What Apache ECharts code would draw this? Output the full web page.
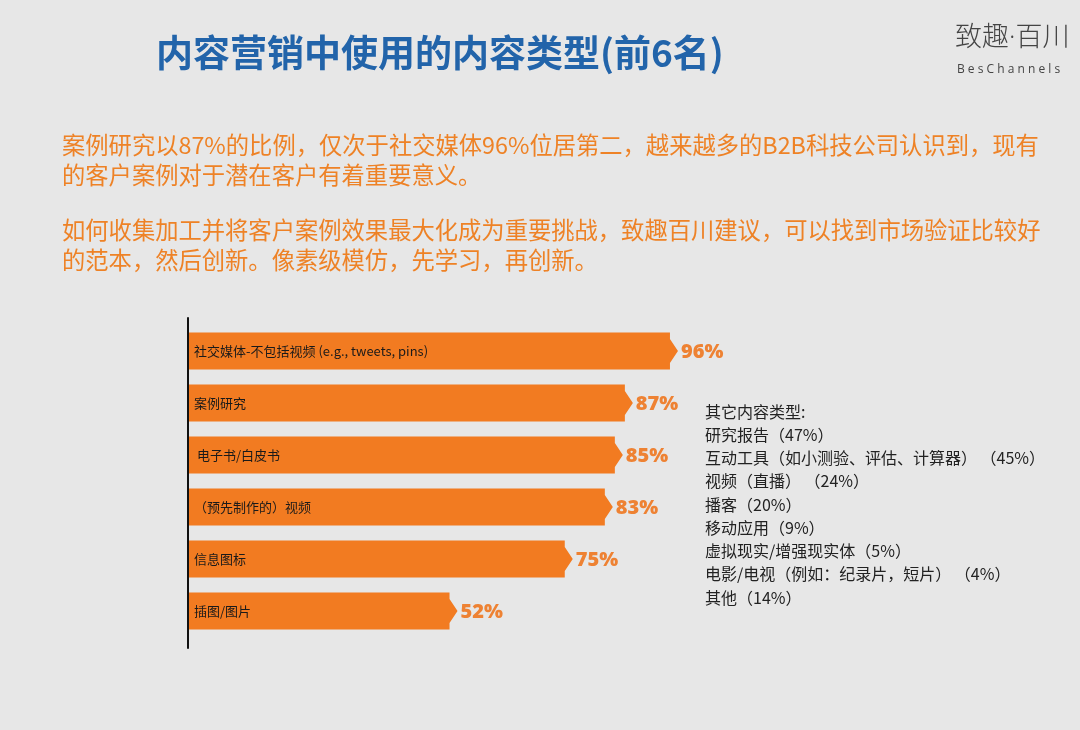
<!DOCTYPE html>
<html>
<head>
<meta charset="utf-8">
<script src="https://cdn.jsdelivr.net/npm/echarts@6/dist/echarts.min.js"></script>
<style>
html,body{margin:0;padding:0;background:#e7e7e7;}
#chart{width:1080px;height:730px;}
</style>
</head>
<body>
<div id="chart"></div>
<script>
const titleText = '内容营销中使用的内容类型(前6名)';
const categories = ['社交媒体-不包括视频 (e.g., tweets, pins)', '案例研究', ' 电子书/白皮书', '（预先制作的）视频', '信息图标', '插图/图片'];
const values = [96, 87, 85, 83, 75, 52];
const paragraph1 = ['案例研究以87%的比例，仅次于社交媒体96%位居第二，越来越多的B2B科技公司认识到，现有', '的客户案例对于潜在客户有着重要意义。'];
const paragraph2 = ['如何收集加工并将客户案例效果最大化成为重要挑战，致趣百川建议，可以找到市场验证比较好', '的范本，然后创新。像素级模仿，先学习，再创新。'];
const otherTypes = ['其它内容类型:', '研究报告（47%）', '互动工具（如小测验、评估、计算器） （45%）', '视频（直播） （24%）', '播客（20%）', '移动应用（9%）', '虚拟现实/增强现实体（5%）', '电影/电视（例如：纪录片，短片） （4%）', '其他（14%）'];
const logoText = '致趣·百川';
const logoSub = 'B e s C h a n n e l s';

const CJK = '"Noto Sans CJK SC", "Noto Sans", sans-serif';
const BAR = '#f27b21';
const LABEL = '#ee8233';

const chart = echarts.init(document.getElementById('chart'), null, {renderer: 'canvas'});

const option = {
  backgroundColor: '#e7e7e7',
  animation: false,
  title: {
    text: titleText,
    left: 151,
    top: 29,
    textStyle: {fontSize: 37, fontWeight: 'bold', color: '#2264aa', fontFamily: CJK}
  },
  graphic: [
    {type: 'text', left: 62, top: 130, style: {text: paragraph1.join('\n'), font: '23.3px ' + CJK, fill: '#ee8226', lineHeight: 30}},
    {type: 'text', left: 62, top: 215, style: {text: paragraph2.join('\n'), font: '23.3px ' + CJK, fill: '#ee8226', lineHeight: 30}},
    {type: 'text', left: 705, top: 400, style: {text: otherTypes.join('\n'), font: '16px ' + CJK, fill: '#222222', lineHeight: 23.25}},
    {type: 'text', left: 955, top: 24, style: {text: logoText, font: '300 27px "Open Sans", "Noto Sans CJK SC", sans-serif', fill: '#444444', lineHeight: 28}},
    {type: 'text', left: 957, top: 62, style: {text: logoSub, font: '12px "Open Sans", sans-serif', fill: '#444444', lineHeight: 16}}
  ],
  grid: [
    {left: 189, top: 325, width: 501, height: 312, containLabel: false},
    {left: 188, top: 318, width: 10, height: 330, containLabel: false}
  ],
  xAxis: [
    {type: 'value', gridIndex: 0, min: 0, max: 100, show: false},
    {type: 'value', gridIndex: 1, min: 0, max: 1, show: false}
  ],
  yAxis: [
    {
      type: 'category', gridIndex: 0, data: categories, inverse: true, z: 10,
      axisLine: {show: false}, axisTick: {show: false}, splitLine: {show: false},
      axisLabel: {inside: true, margin: 5, color: '#1a1a1a', fontSize: 13, fontFamily: CJK, align: 'left'}
    },
    {
      type: 'value', gridIndex: 1, min: 0, max: 1,
      axisLine: {show: true, onZero: false, lineStyle: {color: '#111111', width: 2}},
      axisTick: {show: false}, axisLabel: {show: false}, splitLine: {show: false}
    }
  ],
  series: [{
    type: 'custom',
    xAxisIndex: 0,
    yAxisIndex: 0,
    data: values.map((v, i) => [i, v]),
    encode: {x: 1, y: 0},
    renderItem: function (params, api) {
      const idx = api.value(0);
      const v = api.value(1);
      const start = api.coord([0, idx]);
      const end = api.coord([v, idx]);
      const band = api.size([0, 1])[1];
      const h = band * 0.715;
      const t = h * 0.64;
      const tw = 8;
      const x0 = start[0], x1 = end[0], y = end[1];
      return {
        type: 'group',
        children: [
          {
            type: 'polygon',
            shape: {points: [[x0, y - h / 2], [x1, y - h / 2], [x1, y - t / 2], [x1 + tw, y], [x1, y + t / 2], [x1, y + h / 2], [x0, y + h / 2]]},
            style: {fill: BAR}
          },
          {
            type: 'text',
            style: {
              text: v + '%', x: x1 + tw + 3, y: y + 1,
              font: '800 20px "Open Sans", sans-serif', fill: LABEL,
              textAlign: 'left', textVerticalAlign: 'middle', align: 'left', verticalAlign: 'middle'
            }
          }
        ]
      };
    }
  }]
};
chart.setOption(option);
</script>
</body>
</html>
